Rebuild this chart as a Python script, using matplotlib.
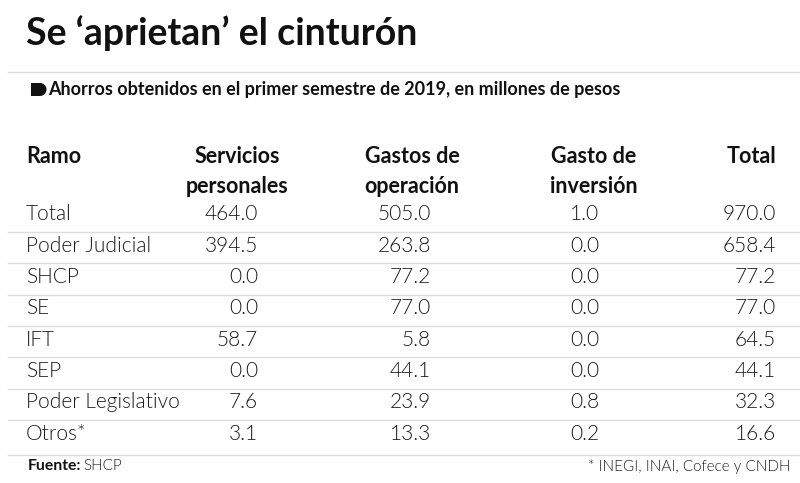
import matplotlib
matplotlib.use("Agg")
import matplotlib.pyplot as plt
from matplotlib.patches import FancyBboxPatch

plt.rcParams['font.family'] = ['Lato', 'DejaVu Sans']

# ---- datos ----
title = "Se \u2018aprietan\u2019 el cintur\u00f3n"
subtitle = "Ahorros obtenidos en el primer semestre de 2019, en millones de pesos"
headers = ["Ramo", "Servicios\npersonales", "Gastos de\noperaci\u00f3n", "Gasto de\ninversi\u00f3n", "Total"]
ramos = ["Total", "Poder Judicial", "SHCP", "SE", "IFT", "SEP", "Poder Legislativo", "Otros*"]
servicios = [464.0, 394.5, 0.0, 0.0, 58.7, 0.0, 7.6, 3.1]
operacion = [505.0, 263.8, 77.2, 77.0, 5.8, 44.1, 23.9, 13.3]
inversion = [1.0, 0.0, 0.0, 0.0, 0.0, 0.0, 0.8, 0.2]
totales = [970.0, 658.4, 77.2, 77.0, 64.5, 44.1, 32.3, 16.6]
fuente = "SHCP"
nota = "* INEGI, INAI, Cofece y CNDH"

W, H = 800, 483
fig = plt.figure(figsize=(W / 100, H / 100), dpi=100)
ax = fig.add_axes([0, 0, 1, 1])
ax.set_xlim(0, W)
ax.set_ylim(H, 0)
ax.axis('off')

line_col = '#dcdcdc'
dark = '#111111'
body = '#1a1a1a'

# titulo
ax.text(26, 33, title, fontsize=27, fontweight='bold', va='center', ha='left', color=dark)
ax.plot([8, W], [72, 72], color=line_col, lw=1)

# subtitulo con marcador
tag = FancyBboxPatch((31, 83), 9, 13, boxstyle="round,pad=0,rounding_size=0", fc=dark, ec='none')
ax.add_patch(tag)
ax.add_patch(plt.Circle((40, 89.5), 6.5, fc=dark, ec='none'))
ax.text(48, 89, subtitle, fontsize=13.0, fontweight='bold', va='center', ha='left', color=dark)

# columnas
col_x = [26, 258, 431, 599, 776]
head_x = [26, 237, 412, 594, 776]
head_ha = ['left', 'center', 'center', 'center', 'right']

for x, h, ha in zip(head_x, headers, head_ha):
    ax.text(x, 146, h, fontsize=15.5, fontweight='bold', va='top', ha=ha,
            linespacing=1.55, color=dark)

cols = [servicios, operacion, inversion, totales]
y0, step = 214.5, 31.3
for i, r in enumerate(ramos):
    y = y0 + i * step
    ax.text(col_x[0], y, r, fontsize=15, fontweight=300, va='center', ha='left', color=body)
    for x, vals in zip(col_x[1:], cols):
        ax.text(x, y, f"{vals[i]:.1f}", fontsize=15, fontweight=300, va='center', ha='right', color=body)
    if i < len(ramos) - 1:
        ax.plot([8, W], [y + 17.5, y + 17.5], color=line_col, lw=1)

ax.plot([8, W], [455, 455], color=line_col, lw=1)

# pie
ax.text(28, 466, "Fuente:", fontsize=11.3, fontweight='bold', va='center', ha='left', color=dark)
ax.text(83, 466, fuente, fontsize=11, fontweight=300, va='center', ha='left', color=body)
ax.text(790, 467, nota, fontsize=11, fontweight=300, va='center', ha='right', color=body)

fig.savefig("out.png", dpi=100, facecolor='white')
